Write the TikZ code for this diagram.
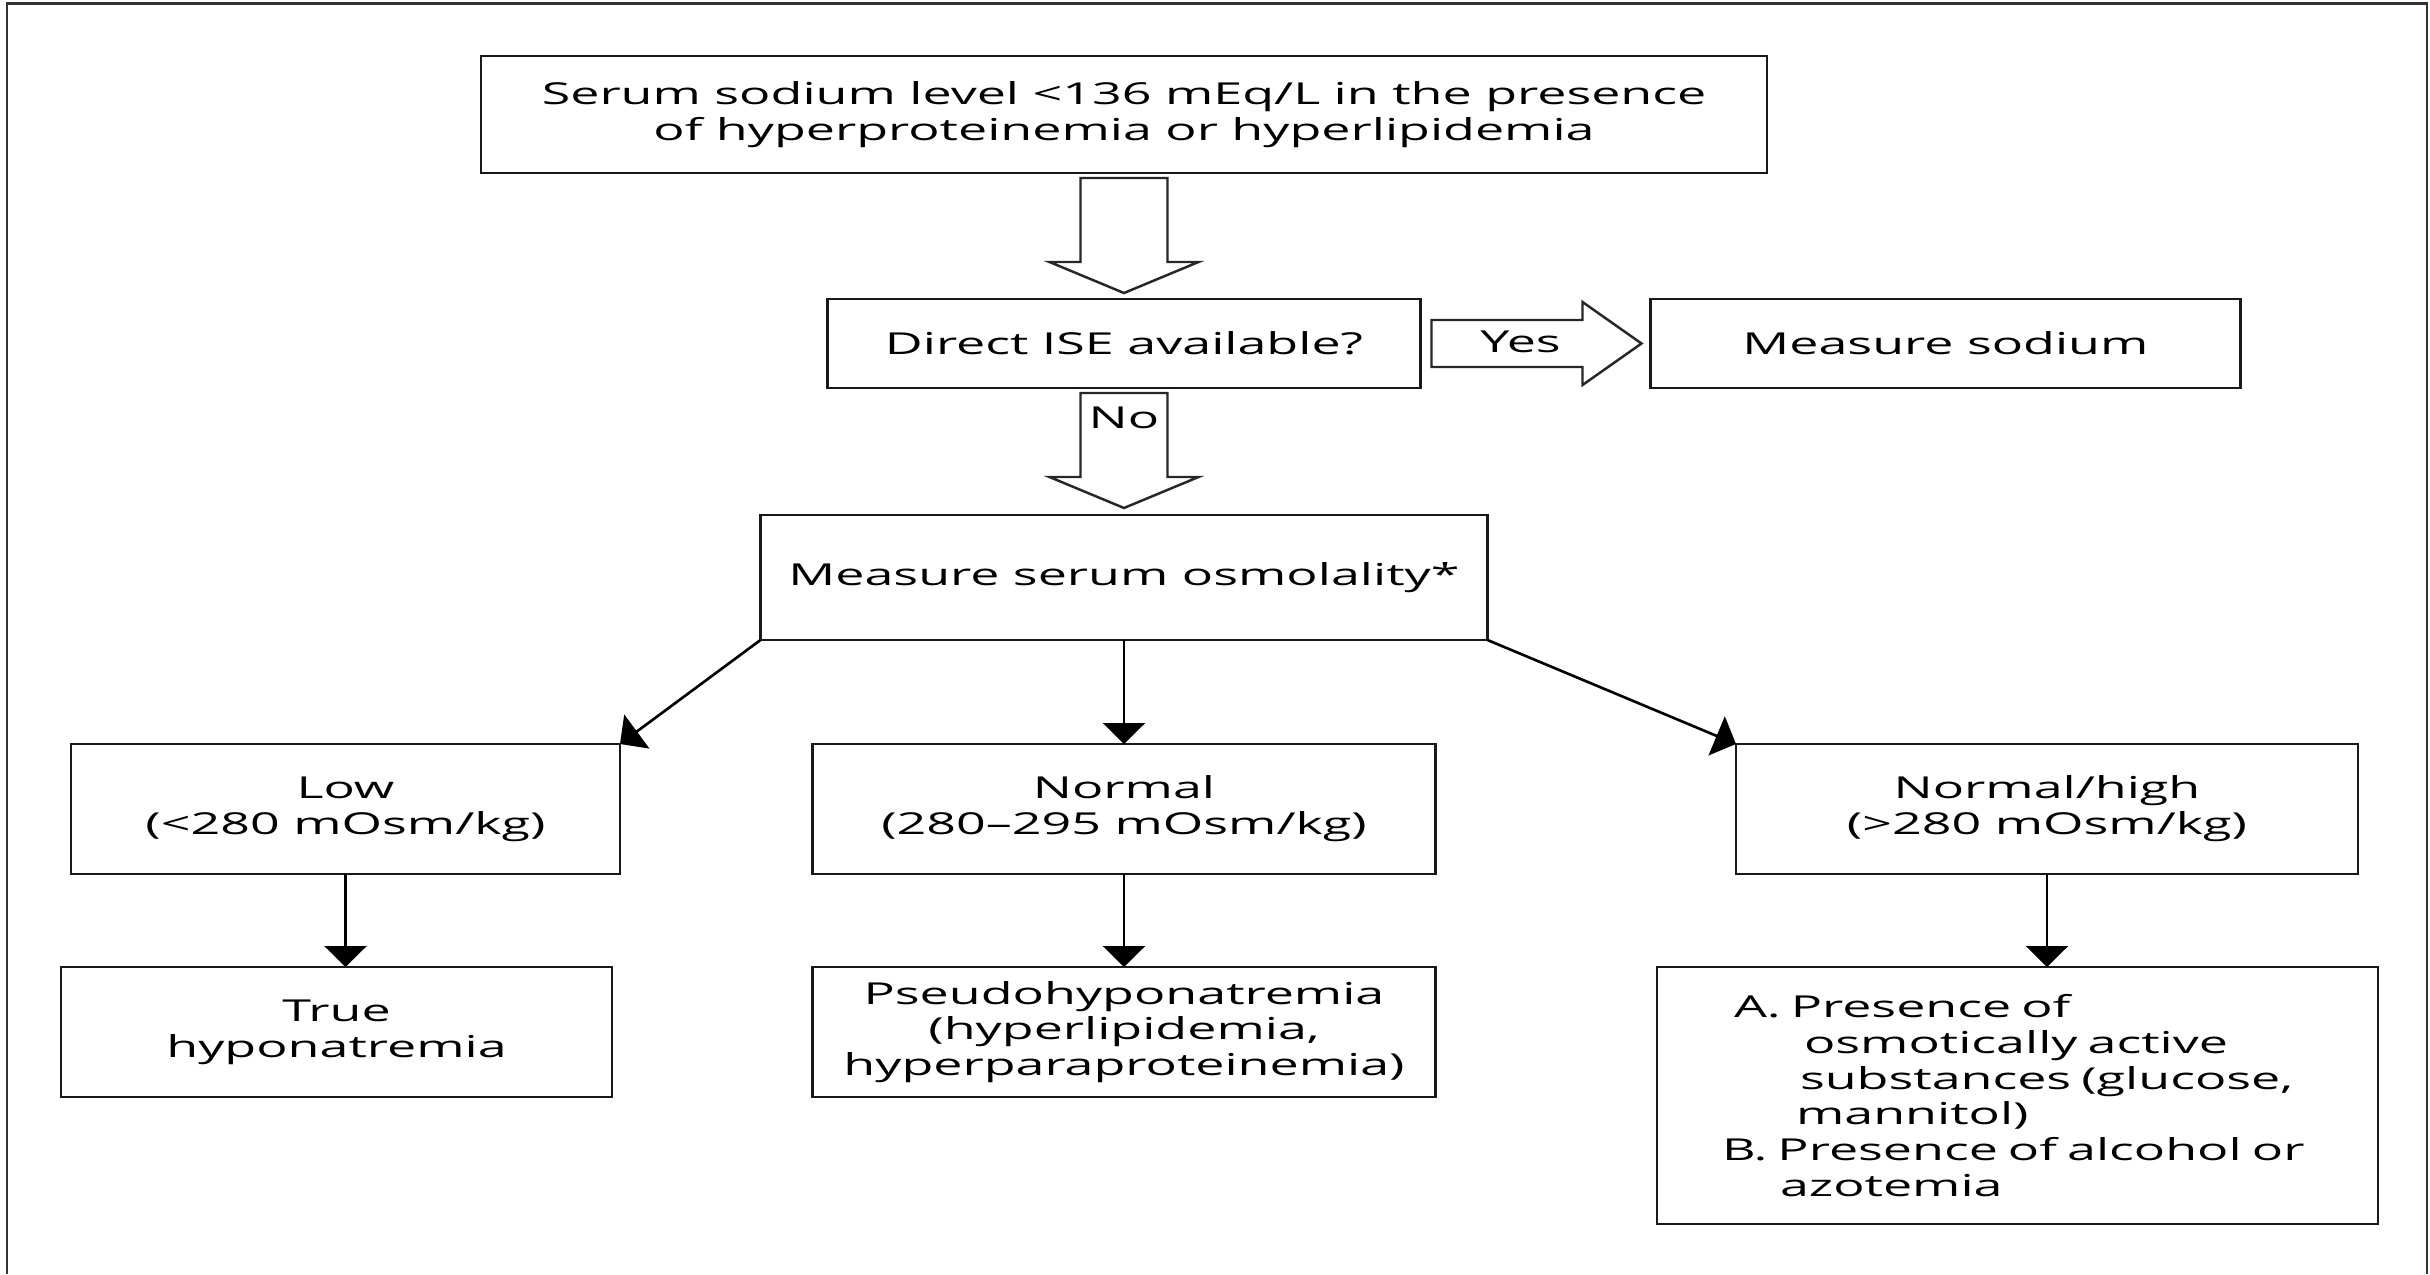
\documentclass[tikz,border=0pt]{standalone}
\usepackage{fontspec}
\setmainfont{Open Sans}[FakeStretch=1.72]
\usetikzlibrary{arrows.meta,positioning,calc}
\tikzset{
  box/.style={draw=black!90,line width=0.6pt,align=center,inner sep=0pt,outer sep=0pt,
              font=\fontsize{8.6}{10.2}\selectfont},
  result/.style={box,minimum width=62.3mm,minimum height=13mm},
  tag/.style={inner sep=0pt,font=\fontsize{8.6}{10.2}\selectfont},
  arrow/.style={-{Triangle[length=2.1mm,width=4.2mm]},line width=0.75pt},
  hollow/.style={draw=black!85,line width=0.7pt,fill=white},
  downarrow/.pic={
    \path[hollow] (-43.5,0) -- (43.5,0) -- (43.5,84) -- (74.5,84) -- (0,115)
      -- (-74.5,84) -- (-43.5,84) -- cycle;},
  rightarrow/.pic={
    \path[hollow] (0,-23.5) -- (151,-23.5) -- (151,-41.5) -- (210,0)
      -- (151,41.5) -- (151,23.5) -- (0,23.5) -- cycle;}
}

\begin{document}
\begin{tikzpicture}[x=0.1mm,y=-0.1mm]
\useasboundingbox (0,0) rectangle (2430,1274);
\draw[line width=0.8pt,black!80] (7,1274) -- (7,3.5) -- (2427,3.5) -- (2427,1274);

\node[box,minimum width=128.6mm,minimum height=11.7mm] (serum) at (1124,114.5)
  {Serum sodium level <136 mEq/L in the presence\\of hyperproteinemia or hyperlipidemia};
\node[box,minimum width=59.3mm,minimum height=8.9mm,below=12.6mm of serum] (ise) {Direct ISE available?};
\node[box,minimum width=59mm,minimum height=8.9mm,right=23mm of ise] (sodium) {Measure sodium};
\node[box,minimum width=72.7mm,minimum height=12.5mm,below=12.7mm of ise] (osmo) {Measure serum osmolality*};
\node[result,below=10.4mm of osmo] (normal) {Normal\\(280--295 mOsm/kg)};
\node[result,minimum width=54.9mm] (low) at (345.5,809) {Low\\(<280 mOsm/kg)};
\node[result,minimum width=62.2mm] (high) at (2047,809) {Normal/high\\(>280 mOsm/kg)};
\node[result,below=9.3mm of normal] (pseudo) {Pseudohyponatremia\\(hyperlipidemia,\\hyperparaproteinemia)};
\node[result,minimum width=55.1mm,below=9.3mm of low,xshift=-0.9mm] (true) {True\\hyponatremia};
\node[box,minimum height=25.7mm,align=left,inner xsep=6.5mm,text width=59.1mm,
      below=9.3mm of high,xshift=-2.95mm] (causes)
  {\hspace*{1.2mm}A. Presence of\\
   \hspace*{8.2mm}osmotically active\\
   \hspace*{7.8mm}substances (glucose,\\
   \hspace*{7.4mm}mannitol)\\
   B. Presence of alcohol or\\
   \hspace*{5.8mm}azotemia};

% hollow arrows
\pic at ($(serum.south)+(0,5)$) {downarrow};
\pic at ($(ise.south)+(0,5)$) {downarrow};
\pic at ($(ise.east)+(11,0)$) {rightarrow};
\node[tag] (no) at ($(ise.south)+(0,30)$) {No};
\node[tag] (yes) at ($(ise.east)+(100,-2)$) {Yes};

\draw[arrow] (osmo.south west) -- (low.north east);
\draw[arrow] (osmo) -- (normal);
\draw[arrow] (osmo.south east) -- (high.north west);
\draw[arrow] (low.south) -- (low.south |- true.north);
\draw[arrow] (normal) -- (pseudo);
\draw[arrow] (high.south) -- (high.south |- causes.north);
\end{tikzpicture}
\end{document}
